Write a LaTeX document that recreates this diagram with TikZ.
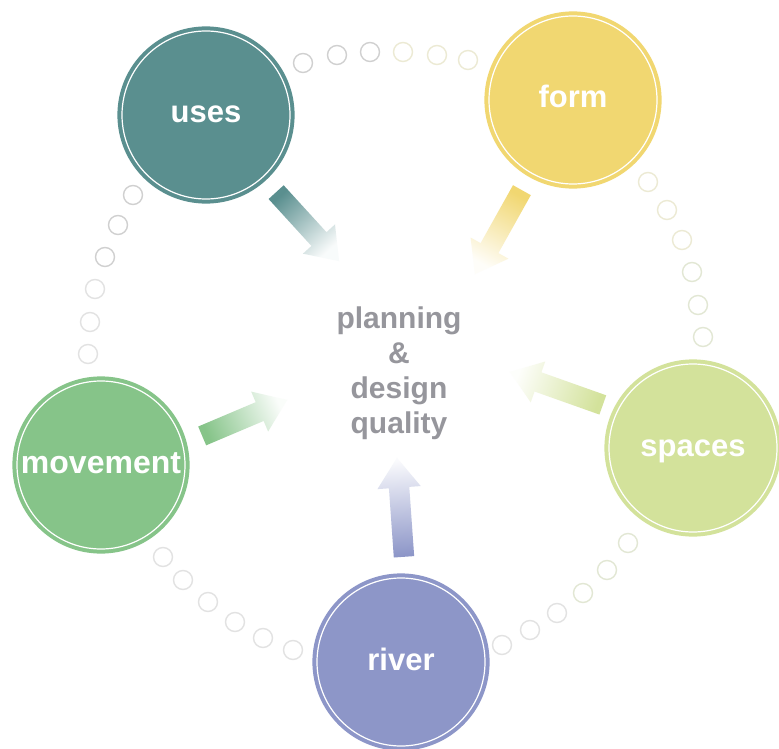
\documentclass[tikz,border=0pt]{standalone}
\usepackage{fontspec}
\setmainfont{Liberation Sans}
\usetikzlibrary{shapes.arrows,calc}

\definecolor{usescol}{RGB}{90,143,143}
\definecolor{formcol}{RGB}{241,215,113}
\definecolor{spacescol}{RGB}{211,226,155}
\definecolor{movecol}{RGB}{134,196,137}
\definecolor{rivercol}{RGB}{141,150,200}
\definecolor{coretext}{RGB}{150,150,156}
\definecolor{dotgrey}{RGB}{208,208,208}
\definecolor{dotpale}{RGB}{226,226,226}
\definecolor{dotyellow}{RGB}{236,234,212}
\definecolor{dotgreen}{RGB}{226,231,212}

\begin{document}
\begin{tikzpicture}[
        x=1pt, y=-1pt,
        topic/.style={circle, fill=#1, draw=#1, double=white, double distance=1.2pt,
            line width=4pt, minimum size=168pt, inner sep=0pt, text=white,
            font=\fontsize{31}{31}\selectfont\bfseries, text height=16pt, text depth=0pt},
        dot/.style={circle, draw=#1, line width=1.4pt, minimum size=19pt, inner sep=0pt},
        blockarrow/.style={single arrow, draw=none, left color=#1, right color=#1!4,
            inner sep=0pt, inner ysep=10pt, single arrow head extend=11.5pt,
            single arrow tip angle=72, anchor=tail}
        ]
    \useasboundingbox[fill=white] (0,0) rectangle (779,749);

    % ring of little circles
    \foreach \x/\y/\c [count=\i] in {
            303/63/dotgrey, 337/55/dotgrey, 370/52/dotgrey,
            403/52/dotyellow, 437/55/dotyellow, 468/60/dotyellow,
            648/182/dotyellow, 667/210/dotyellow, 682/240/dotyellow,
            692/272/dotgreen, 698/305/dotgreen, 703/337/dotgreen,
            628/543/dotgreen, 607/570/dotgreen, 583/593/dotgreen,
            557/613/dotpale, 530/630/dotpale, 502/645/dotpale,
            293/650/dotpale, 263/638/dotpale, 235/622/dotpale,
            208/602/dotpale, 183/580/dotpale, 163/557/dotpale,
            88/354/dotpale, 90/322/dotpale, 95/289/dotpale,
            105/257/dotgrey, 118/225/dotgrey, 133/195/dotgrey}
        \node[dot=\c] (dot\i) at (\x,\y) {};

    % the five topics
    \node[topic=usescol] (uses) at (206,115) {uses};
    \node[topic=formcol] (form) at (573,100) {form};
    \node[topic=spacescol] (spaces) at (693,448) {spaces};
    \node[topic=movecol, font=\fontsize{32}{32}\selectfont\bfseries] (movement) at (101,465) {movement};
    \node[topic=rivercol] (river) at (401,662) {river};

    \node[text=coretext, align=center, font=\fontsize{30}{35}\selectfont\bfseries]
        (core) at (399,373) {planning\\\&\\design\\quality};

    % arrows into the middle
    \coordinate (uses-tail) at (276,192);     \coordinate (uses-tip) at (339,261);
    \coordinate (form-tail) at (522,190);     \coordinate (form-tip) at (475,274);
    \coordinate (movement-tail) at (202,436); \coordinate (movement-tip) at (287,400);
    \coordinate (spaces-tail) at (603,405);   \coordinate (spaces-tip) at (510,372);
    \coordinate (river-tail) at (404,557);    \coordinate (river-tip) at (397,458);
    \foreach \t/\c in {uses/usescol, form/formcol, movement/movecol, spaces/spacescol, river/rivercol}
        \path let \p1=(\t-tail), \p2=(\t-tip),
                  \n1={atan2(\y2-\y1,\x2-\x1)}, \n2={veclen(\x2-\x1,\y2-\y1)} in
            node[blockarrow=\c, rotate=\n1, shading angle={\n1+90}, minimum height=\n2] (\t-arrow) at (\t-tail) {};
\end{tikzpicture}
\end{document}
